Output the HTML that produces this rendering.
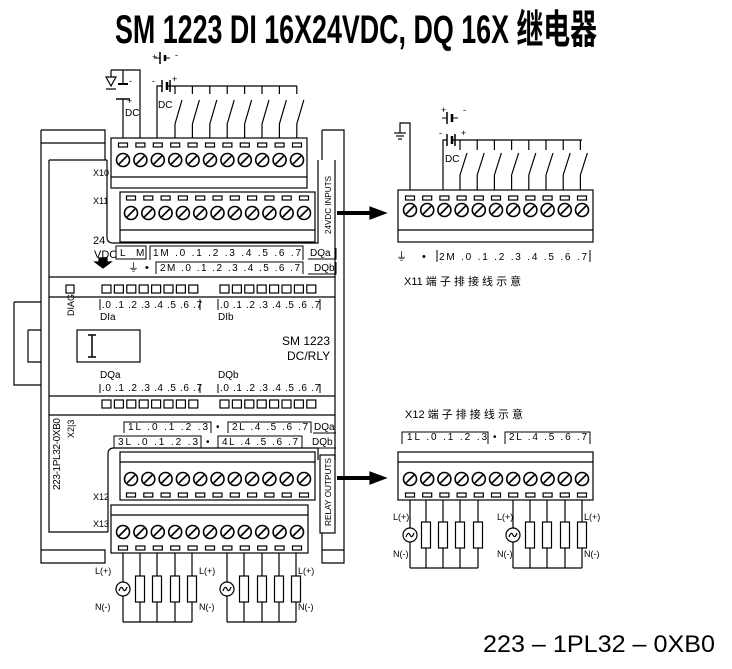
<!DOCTYPE html>
<html><head><meta charset="utf-8">
<style>
html,body{margin:0;padding:0;background:#fff;}
svg{display:block;}
text{font-family:"Liberation Sans","Noto Sans CJK SC",sans-serif;fill:#000;}
</style></head>
<body>
<svg id="s" width="732" height="669" viewBox="0 0 732 669" xmlns="http://www.w3.org/2000/svg">
<g id="g" stroke="#000" stroke-width="1.2" fill="none">
<path d="M41,130 H105 V160 M41,143 H105 M41,130 V563 H105 V550 H41 M49,160 V532 H108 M49,160 H107"/>
<path d="M322,130 H344 V563 H322 V550 H344 M322,130 V160 M335,160 V460 M322,552 V533"/>
<path d="M14,302 H41 M14,302 V385 H41 M28,330 V362 H41 M28,330 H41"/>
<path d="M49,277 H335 M49,297 H335 M49,396 H335 M49,415 H335"/>
<path d="M107,160 V237 Q107,243 113,243 H318 V160"/>
<path d="M108,532 V454 Q108,448 114,448 H318 V460"/>
<rect x="320" y="455" width="15" height="78"/>
<rect x="77" y="330" width="63" height="32"/>
<path d="M88,335 H96 M92,335 V357 M88,357 H96" stroke-width="1.5"/>
<path d="M337,213 H372 M337,478 H372" stroke-width="4"/>
<polygon points="370,207 386,213 370,219" fill="#000"/>
<polygon points="370,472 386,478 370,484" fill="#000"/>
<polygon points="99,258 107,258 107,262 111,262 103,268 95,262 99,262" fill="#000"/>
</g>

<g font-size="9">
<text x="93" y="176">X10</text>
<text x="93" y="204">X11</text>
<text x="93" y="500">X12</text>
<text x="93" y="527">X13</text>
<text x="93" y="244" font-size="11">24</text>
<text x="94" y="258" font-size="11">VDC</text>
<text x="120" y="256" font-size="10">L</text><text x="136" y="256" font-size="10">M</text>
<text x="153" y="256" font-size="10" textLength="148">1M  .0   .1   .2   .3   .4   .5   .6   .7</text>
<text x="310" y="256" font-size="10">DQa</text>
<text x="128" y="271" font-size="11">⏚</text><text x="145" y="271" font-size="11">•</text>
<text x="160" y="271" font-size="10" textLength="140">2M  .0   .1   .2   .3   .4   .5   .6   .7</text>
<text x="314" y="271" font-size="10">DQb</text>
<text x="102" y="308" font-size="10" textLength="100">.0  .1  .2  .3  .4  .5  .6  .7</text>
<text x="220" y="308" font-size="10" textLength="100">.0  .1  .2  .3  .4  .5  .6  .7</text>
<text x="100" y="320" font-size="10">DIa</text>
<text x="218" y="320" font-size="10">DIb</text>
<text x="282" y="345" font-size="12">SM 1223</text>
<text x="287" y="360" font-size="12">DC/RLY</text>
<text x="100" y="378" font-size="10">DQa</text>
<text x="218" y="378" font-size="10">DQb</text>
<text x="102" y="391" font-size="10" textLength="100">.0  .1  .2  .3  .4  .5  .6  .7</text>
<text x="220" y="391" font-size="10" textLength="100">.0  .1  .2  .3  .4  .5  .6  .7</text>
<text x="128" y="430" font-size="10" textLength="80">1L  .0   .1   .2   .3</text>
<text x="216" y="430" font-size="10">•</text>
<text x="232" y="430" font-size="10" textLength="76">2L  .4   .5   .6   .7</text>
<text x="314" y="430" font-size="10">DQa</text>
<text x="118" y="445" font-size="10" textLength="80">3L  .0   .1   .2   .3</text>
<text x="206" y="445" font-size="10">•</text>
<text x="222" y="445" font-size="10" textLength="76">4L  .4   .5   .6   .7</text>
<text x="312" y="445" font-size="10">DQb</text>
<text font-size="9" transform="translate(74,316) rotate(-90)">DIAG</text>
<text font-size="10" transform="translate(60,490) rotate(-90)" textLength="72">223-1PL32-0XB0</text>
<text font-size="9" transform="translate(74,438) rotate(-90)">X2|3</text>
<text font-size="8" transform="translate(331,234) rotate(-90)" textLength="58" lengthAdjust="spacingAndGlyphs">24VDC INPUTS</text>
<text font-size="8.5" transform="translate(331,526) rotate(-90)" textLength="68" lengthAdjust="spacingAndGlyphs">RELAY OUTPUTS</text>
<text x="125" y="116" font-size="10" font-family="Liberation Serif">DC</text>
<text x="127" y="104" font-size="9">+</text>
<text x="129" y="84" font-size="9">-</text>
<text x="152" y="60" font-size="9">+</text><text x="175" y="58" font-size="9">-</text>
<text x="152" y="84" font-size="9">-</text><text x="172" y="82" font-size="9">+</text>
<text x="158" y="108" font-size="10" font-family="Liberation Serif">DC</text>
<text x="441" y="113" font-size="9">+</text><text x="463" y="113" font-size="9">-</text>
<text x="439" y="136" font-size="9">-</text><text x="461" y="136" font-size="9">+</text>
<text x="445" y="162" font-size="10" font-family="Liberation Serif">DC</text>
<text x="396" y="260" font-size="11">⏚</text><text x="422" y="260" font-size="11">•</text>
<text x="439" y="260" font-size="10" textLength="148">2M  .0   .1   .2   .3   .4   .5   .6   .7</text>
<text x="404" y="285" font-size="11">X11 端 子 排 接 线 示 意</text>
<text x="405" y="418" font-size="11">X12 端 子 排 接 线 示 意</text>
<text x="407" y="440" font-size="10" textLength="80">1L  .0   .1   .2   .3</text>
<text x="493" y="440" font-size="10">•</text>
<text x="509" y="440" font-size="10" textLength="78">2L  .4   .5   .6   .7</text>
<text x="95" y="574" font-size="9">L(+)</text><text x="95" y="610" font-size="9">N(-)</text>
<text x="199" y="574" font-size="9">L(+)</text><text x="199" y="610" font-size="9">N(-)</text>
<text x="298" y="574" font-size="9">L(+)</text><text x="298" y="610" font-size="9">N(-)</text>
<text x="393" y="520" font-size="9">L(+)</text><text x="393" y="557" font-size="9">N(-)</text>
<text x="497" y="520" font-size="9">L(+)</text><text x="497" y="557" font-size="9">N(-)</text>
<text x="584" y="520" font-size="9">L(+)</text><text x="584" y="557" font-size="9">N(-)</text>
</g>
<text x="115" y="43" font-size="40" font-weight="bold" textLength="482" lengthAdjust="spacingAndGlyphs" style="font-family:'Liberation Sans Narrow','Liberation Sans','Noto Sans CJK SC',sans-serif">SM 1223  DI 16X24VDC, DQ  16X 继电器</text>
<text x="483" y="652" font-size="24" textLength="232" lengthAdjust="spacingAndGlyphs">223 – 1PL32 – 0XB0</text>

<script>
var g=document.getElementById('g'),NS='http://www.w3.org/2000/svg';
function el(t,a){var e=document.createElementNS(NS,t);for(var k in a)e.setAttribute(k,a[k]);g.appendChild(e);return e;}
function line(x1,y1,x2,y2,w){el('line',{x1:x1,y1:y1,x2:x2,y2:y2,'stroke-width':w||1.2});}
function block(x0,x1,t,b,ly,sy,cy,sx,st){
 el('rect',{x:x0,y:t,width:x1-x0,height:b-t});line(x0,ly,x1,ly);
 for(var i=0;i<11;i++){var x=sx+i*st;
  el('rect',{x:x-4.5,y:sy-2,width:9,height:4});
  el('circle',{cx:x,cy:cy,r:6.5,'stroke-width':1.6});
  line(x-4,cy+4,x+4,cy-4,1.6);}
}
block(111,307,138,188,177,145,160,123,17.4);
block(120,315,192,242,230,198,213,131,17.3);
block(120,315,452,500,462,495,479,131,17.3);
block(111,308,505,553,515,548,532,123,17.4);
block(398,593,190,242,230,198,210,410,17.2);
block(398,593,452,500,462,495,479,410,17.2);
el('rect',{x:116,y:246,width:30,height:13,'stroke-width':1});
el('path',{d:'M150,260 V246 H303 V260 M308,259 H336 V248 M156,274 V262 H303 V274 M308,274 H336 V262','stroke-width':1});
el('path',{d:'M124,433 V422 H211 V433 M228,433 V422 H311 V433 M313,433 H336 M114,448 V436 H201 V448 M218,448 V436 H302 V448 M308,448 H336','stroke-width':1});
el('path',{d:'M100,310 V299 M200,310 V299 M218,310 V299 M320,310 V299 M100,393 V384 M200,393 V384 M218,393 V384 M320,393 V384','stroke-width':1});
el('path',{d:'M437,262 V250 M590,262 V250 M402,444 V432 H488 V444 M505,444 V432 H590 V444','stroke-width':1});
el('rect',{x:66,y:285,width:8,height:8});
for(var i=0;i<8;i++){el('rect',{x:102+i*12.4,y:285,width:9,height:8});el('rect',{x:220+i*12.4,y:285,width:9,height:8});
 el('rect',{x:102+i*12.4,y:400,width:9,height:8});el('rect',{x:220+i*12.4,y:400,width:9,height:8});}
el('path',{d:'M111,70 H140 V138 M123,70 V84 M123,99 V138 M111,70 V77'});
el('polygon',{points:'106,77 116,77 111,86'});line(106,89,116,89);
line(118,84,128,84,2);line(116,99,130,99,1.5);
el('path',{d:'M157,138 V86 H162 M167,86 H297'});
line(162,80,162,92,1.5);line(167,82,167,90,2.5);line(170,80,170,92,1.5);
line(160,52,160,64,1.5);line(165,55,165,61,2.5);line(160,58,155,58,1);line(165,58,170,58,1);
for(var i=0;i<8;i++){var x=175+i*17.4;line(x,86,x,94);line(x,124,x+7,100);line(x,124,x,138);}
el('path',{d:'M410,190 V123 H400 V133'});line(394,133,406,133);line(396,136,404,136);line(398,139,402,139);
el('path',{d:'M443,190 V140 H447 M453,140 H582'});
line(447,134,447,146,1.5);line(452,136,452,144,2.5);line(455,134,455,146,1.5);
line(447,112,447,124,1.5);line(452,114,452,122,2.5);line(442,118,447,118,1);line(452,118,458,118,1);
for(var i=0;i<8;i++){var x=460+i*17.2;line(x,140,x,150);line(x,175,x+7,153);line(x,175,x,190);}
function loads(xs,top,bot,rt,rb,acL){
 line(xs[0],bot,xs[4],bot);
 for(var i=0;i<5;i++){var x=xs[i];
  if(i==0&&acL){line(x,top,x,(rt+rb)/2-7);line(x,(rt+rb)/2+7,x,bot);el('circle',{cx:x,cy:(rt+rb)/2,r:7});
   el('path',{d:'M'+(x-4)+','+((rt+rb)/2+2)+' q2,-6 4,-2 q2,4 4,-2'});}
  else{line(x,top,x,rt);el('rect',{x:x-4.5,y:rt,width:9,height:rb-rt});line(x,rb,x,bot);}
 }}
loads([123,140,157,175,192],553,622,576,602,1);
loads([227,244,262,279,296],553,622,576,602,1);
loads([410,426,443,460,478],500,568,522,548,1);
loads([513,530,547,565,582],500,568,522,548,1);
</script>
</svg>
</body></html>
